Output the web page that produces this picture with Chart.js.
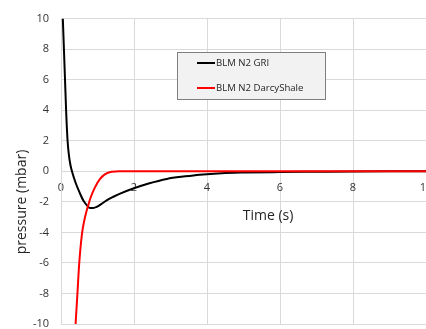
<!DOCTYPE html>
<html>
<head>
<meta charset="utf-8">
<script src="https://cdn.jsdelivr.net/npm/chart.js@4/dist/chart.umd.min.js"></script>
<style>
  html, body { margin: 0; padding: 0; background: #fff; }
  #wrap { width: 426px; height: 329px; overflow: hidden; position: relative; }
  canvas { display: block; }
</style>
</head>
<body>
<div id="wrap"><canvas id="c" width="440" height="345" style="width:440px;height:345px"></canvas></div>
<script>
// Pressure response of the two BLM N2 models
const griTime = [0.05, 0.08, 0.11, 0.14, 0.18, 0.22, 0.26, 0.30, 0.40, 0.52, 0.62, 0.70, 0.79, 0.88, 0.98, 1.10, 1.25, 1.45, 1.62, 1.98, 2.40, 2.90, 3.40, 3.80, 4.40, 5.00, 6.00, 7.00, 8.00, 9.00, 10.00];
const griPressure = [10, 8, 6, 4, 2, 1, 0.4, 0, -0.75, -1.45, -1.95, -2.2, -2.4, -2.4, -2.33, -2.15, -1.9, -1.65, -1.46, -1.13, -0.8, -0.5, -0.33, -0.22, -0.12, -0.08, -0.05, -0.03, -0.01, 0, 0];
const shaleTime = [0.40, 0.45, 0.50, 0.58, 0.64, 0.70, 0.75, 0.80, 0.93, 1.07, 1.20, 1.39, 1.60, 2.00, 4.00, 6.00, 8.00, 10.00];
const shalePressure = [-10, -8, -6, -4, -3.2, -2.6, -2.2, -1.8, -1.05, -0.5, -0.2, -0.03, 0, 0, 0, 0, 0, 0];
const seriesNames = ['BLM N2 GRI', 'BLM N2 DarcyShale'];
const seriesColors = ['#000000', '#ff0000'];
const xTitle = 'Time (s)';
const yTitle = 'pressure (mbar)';

const toPoints = (xs, ys) => xs.map((x, i) => ({ x: x, y: ys[i] }));

const FONT = '"Open Sans", "Liberation Sans", sans-serif';
const GRID = '#d9d9d9';
const TEXT = '#333333';

// Boxed legend inside the plot and the two axis titles
const decorations = {
  id: 'decorations',
  afterDatasetsDraw(chart) {
    const ctx = chart.ctx;
    ctx.save();
    // legend box
    const bx = 177.5, by = 52.5, bw = 148, bh = 47;
    ctx.fillStyle = '#f2f2f2';
    ctx.fillRect(bx, by, bw, bh);
    ctx.strokeStyle = '#7f7f7f';
    ctx.lineWidth = 1;
    ctx.strokeRect(bx, by, bw, bh);
    ctx.font = '9.6px ' + FONT;
    ctx.textBaseline = 'middle';
    ctx.textAlign = 'left';
    const rows = [63, 88];
    chart.data.datasets.forEach((ds, i) => {
      ctx.strokeStyle = ds.borderColor;
      ctx.lineWidth = 2;
      ctx.beginPath();
      ctx.moveTo(197, rows[i]);
      ctx.lineTo(215, rows[i]);
      ctx.stroke();
      ctx.fillStyle = '#262626';
      ctx.fillText(ds.label, 216, rows[i] + 0.5);
    });
    // axis titles
    ctx.fillStyle = '#262626';
    ctx.font = '14px ' + FONT;
    ctx.textAlign = 'center';
    ctx.fillText(xTitle, 268, 216);
    ctx.translate(22, 202);
    ctx.rotate(-Math.PI / 2);
    ctx.fillText(yTitle, 0, 0);
    ctx.restore();
  }
};

new Chart(document.getElementById('c'), {
  type: 'line',
  data: {
    datasets: [
      {
        label: seriesNames[0],
        data: toPoints(griTime, griPressure),
        borderColor: seriesColors[0],
        backgroundColor: seriesColors[0],
        borderWidth: 2,
        pointRadius: 0,
        cubicInterpolationMode: 'monotone',
        order: 2
      },
      {
        label: seriesNames[1],
        data: toPoints(shaleTime, shalePressure),
        borderColor: seriesColors[1],
        backgroundColor: seriesColors[1],
        borderWidth: 2,
        pointRadius: 0,
        cubicInterpolationMode: 'monotone',
        order: 1
      }
    ]
  },
  options: {
    responsive: false,
    animation: false,
    layout: { padding: { left: 0, top: 18, right: 14, bottom: 21 } },
    plugins: { legend: { display: false }, tooltip: { enabled: false } },
    scales: {
      x: {
        type: 'linear',
        position: { y: 0 },
        min: 0, max: 10,
        ticks: { stepSize: 2, color: TEXT, font: { family: FONT, size: 11 }, padding: 10, maxRotation: 0 },
        grid: { color: GRID, lineWidth: 1, drawTicks: false },
        border: { color: GRID, width: 1 },
        afterFit(scale) { scale.paddingLeft = 0; scale.paddingRight = 0; }
      },
      y: {
        type: 'linear',
        position: 'left',
        min: -10, max: 10,
        ticks: { stepSize: 2, color: TEXT, font: { family: FONT, size: 11 }, padding: 12 },
        grid: { color: GRID, lineWidth: 1, drawTicks: false },
        border: { color: GRID, width: 1 },
        afterFit(scale) { scale.width = 61; }
      }
    }
  },
  plugins: [decorations]
});
</script>
</body>
</html>
